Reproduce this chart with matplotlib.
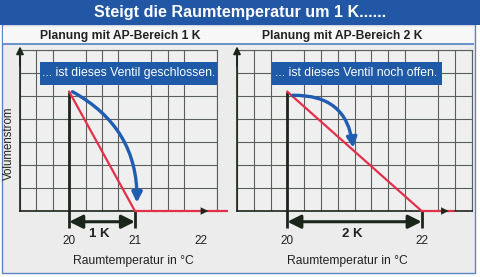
import numpy as np
import matplotlib
matplotlib.use("Agg")
import matplotlib.pyplot as plt
from matplotlib.patches import Rectangle, FancyArrowPatch

plt.rcParams['font.family'] = ['Liberation Sans', 'DejaVu Sans']

# ---- data ----
title = "Steigt die Raumtemperatur um 1 K......"
subtitles = ["Planung mit AP-Bereich 1 K", "Planung mit AP-Bereich 2 K"]
notes = ["... ist dieses Ventil geschlossen.", "... ist dieses Ventil noch offen."]
span_labels = ["1 K", "2 K"]
xlabel = "Raumtemperatur in °C"
ylabel = "Volumenstrom"

tick_vals_1K = [20, 21, 22]
tick_vals_2K = [20, 22]

temps_1K = [20, 21, 22.4]
flow_1K = [1.0, 0.0, 0.0]
temps_2K = [20, 22, 22.47]
flow_2K = [1.0, 0.0, 0.0]

valve_1K_x = [20.05, 21.03]
valve_1K_y = [1.0, 0.07]
valve_2K_x = [20.08, 20.98]
valve_2K_y = [0.97, 0.53]

span_1K = [20, 21]
span_2K = [20, 22]

# ---- figure ----
W, H = 480, 277
fig = plt.figure(figsize=(W / 100, H / 100), dpi=100, facecolor='white')

def fx(px):
    return px / W

def fy(py):
    return 1 - py / H

# panel background + frame
fig.patches.append(Rectangle((fx(2), fy(273)), fx(475) - fx(2), fy(24) - fy(273),
                             transform=fig.transFigure, facecolor='#ececed',
                             edgecolor='#5a86c4', lw=1.0, zorder=-10))
# title bar
fig.patches.append(Rectangle((0, fy(25)), 1, fy(0) - fy(25), transform=fig.transFigure,
                             facecolor='#2257a6', edgecolor='none', zorder=-9))
# subtitle strip
fig.patches.append(Rectangle((fx(3), fy(43)), fx(474) - fx(3), fy(27) - fy(43),
                             transform=fig.transFigure, facecolor='#f7f7f7',
                             edgecolor='none', zorder=-9))
fig.patches.append(Rectangle((fx(3), fy(44.5)), fx(474) - fx(3), fy(43) - fy(44.5),
                             transform=fig.transFigure, facecolor='#6b93cc',
                             edgecolor='none', zorder=-9))

fig.text(fx(240), fy(13), title, color='white', fontsize=11.6, fontweight='bold',
         ha='center', va='center')
fig.text(fx(120), fy(35.5), subtitles[0], color='#222222', fontsize=8.7, fontweight='bold',
         ha='center', va='center')
fig.text(fx(342), fy(35.5), subtitles[1], color='#222222', fontsize=8.7, fontweight='bold',
         ha='center', va='center')

panels = [
    dict(px=(20, 217), xlim=(19.25, 22.25), temps=temps_1K, flow=flow_1K,
         vx=valve_1K_x, vy=valve_1K_y, rad=-0.3, span=span_1K, ticks=tick_vals_1K,
         note=notes[0], box=(0.10, 1.0), label=span_labels[0], label_x=20.45,
         arrow_frac=0.955, xlabel_x=0.574),
    dict(px=(237, 472), xlim=(19.25, 22.75), temps=temps_2K, flow=flow_2K,
         vx=valve_2K_x, vy=valve_2K_y, rad=-0.45, span=span_2K, ticks=tick_vals_2K,
         note=notes[1], box=(0.149, 0.872), label=span_labels[1], label_x=20.97,
         arrow_frac=0.9, xlabel_x=0.47),
]

ymax = 1.35
grid_col = '#5b5f5b'
dark = '#1b261b'
red = '#e3304a'
blue = '#1f5db2'

for i, p in enumerate(panels):
    x0, x1 = p['px']
    ax = fig.add_axes([fx(x0), fy(211), fx(x1) - fx(x0), fy(50) - fy(211)])
    ax.set_zorder(2)
    ax.set_facecolor('#efefef')
    ax.set_xlim(*p['xlim'])
    ax.set_ylim(0, ymax)
    ax.set_xticks(np.arange(p['xlim'][0], p['xlim'][1] + 0.01, 0.25), minor=True)
    ax.set_yticks(np.linspace(0, ymax, 8), minor=True)
    ax.set_yticks([])
    ax.set_xticks(p['ticks'])
    ax.set_xticklabels([str(t) for t in p['ticks']])
    ax.tick_params(axis='x', which='major', length=0, pad=17, labelsize=8.5,
                   labelcolor='#222222')
    ax.tick_params(which='minor', length=0)
    ax.grid(True, which='minor', color=grid_col, lw=0.8)
    ax.grid(False, which='major')
    for s in ['top', 'right']:
        ax.spines[s].set_color(grid_col)
        ax.spines[s].set_linewidth(0.8)
    for s in ['left', 'bottom']:
        ax.spines[s].set_color(dark)
        ax.spines[s].set_linewidth(1.2)

    # y axis arrow
    ax.annotate('', xy=(0, 1.022), xytext=(0, 0.9), xycoords='axes fraction',
                arrowprops=dict(arrowstyle='-|>', color=dark, lw=1.2,
                                mutation_scale=11, shrinkA=0, shrinkB=0),
                annotation_clip=False, zorder=6)

    # reference line at 20 °C
    ax.plot([p['span'][0], p['span'][0]], [1.0, -0.14], color=dark, lw=2,
            clip_on=False, zorder=5, solid_capstyle='butt')
    ax.plot([p['span'][1], p['span'][1]], [0.0, -0.14], color=dark, lw=2,
            clip_on=False, zorder=5, solid_capstyle='butt')

    # red characteristic
    ax.plot(p['temps'], p['flow'], color=red, lw=1.6, clip_on=False, zorder=7)

    # x axis arrowhead
    ax.annotate('', xy=(p['arrow_frac'], 0), xytext=(p['arrow_frac'] - 0.03, 0),
                xycoords='axes fraction',
                arrowprops=dict(arrowstyle='-|>', color=dark, lw=0.1,
                                mutation_scale=13, shrinkA=0, shrinkB=0),
                annotation_clip=False, zorder=8)

    # blue valve arrow
    arr = FancyArrowPatch((p['vx'][0], p['vy'][0]), (p['vx'][1], p['vy'][1]),
                          connectionstyle=f"arc3,rad={p['rad']}",
                          arrowstyle='-|>', mutation_scale=15, color=blue, lw=2.4,
                          shrinkA=0, shrinkB=0, zorder=9)
    ax.add_patch(arr)

    # span double arrow
    ax.annotate('', xy=(p['span'][1], -0.09), xytext=(p['span'][0], -0.09),
                xycoords='data',
                arrowprops=dict(arrowstyle='<|-|>', color=dark, lw=2.2,
                                mutation_scale=20, shrinkA=0, shrinkB=0),
                annotation_clip=False, zorder=6)
    ax.text(p['label_x'], -0.19, p['label'], fontsize=9.5, fontweight='bold',
            color='#222222', ha='center', va='center', clip_on=False)

    # note box
    bx0, bx1 = p['box']
    ax.add_patch(Rectangle((bx0, 0.785), bx1 - bx0, 0.14, transform=ax.transAxes,
                           facecolor='#1f5aa8', edgecolor='none', zorder=10,
                           clip_on=False))
    ax.text(bx0 + 0.012, 0.855, p['note'], transform=ax.transAxes, color='white',
            fontsize=8.8, ha='left', va='center', zorder=11)

    ax.set_xlabel(xlabel, fontsize=8.7, color='#222222')
    ax.xaxis.set_label_coords(p['xlabel_x'], -0.275)
    if i == 0:
        ax.set_ylabel(ylabel, fontsize=8.3, color='#222222')
        ax.yaxis.set_label_coords(-0.028, 0.42)

fig.savefig('out.png', dpi=100, facecolor=fig.get_facecolor())
